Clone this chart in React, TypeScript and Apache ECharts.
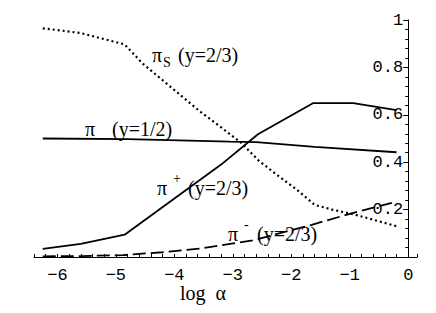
import React, { useEffect, useRef } from "react";
import * as echarts from "echarts";

// log alpha vs. value
const piS: [number, number][] = [
  [-6.25, 0.965], [-5.6, 0.945], [-4.85, 0.897], [-4.55, 0.818], [-4.25, 0.756],
  [-3.9, 0.684], [-3.55, 0.612], [-3.2, 0.547], [-2.85, 0.48], [-2.55, 0.405],
  [-2.2, 0.338], [-1.9, 0.283], [-1.6, 0.22], [-1.3, 0.2], [-0.9, 0.178], [-0.2, 0.13],
];
const piHalf: [number, number][] = [
  [-6.25, 0.5], [-4.8, 0.497], [-3.05, 0.487], [-2.6, 0.485], [-1.6, 0.465], [-0.2, 0.442],
];
const piPlus: [number, number][] = [
  [-6.25, 0.034], [-5.6, 0.055], [-4.85, 0.094], [-3.2, 0.39],
  [-2.57, 0.518], [-1.63, 0.649], [-0.94, 0.649], [-0.2, 0.62],
];
const piMinus: [number, number][] = [
  [-6.25, 0.003], [-5.6, 0.004], [-4.88, 0.008], [-4.2, 0.02], [-3.57, 0.035],
  [-2.66, 0.07], [-1.65, 0.136], [-1.0, 0.182], [-0.2, 0.234],
];

const xLabelValues = [-6, -5, -4, -3, -2, -1, 0];
const yLabelValues = [0.2, 0.4, 0.6, 0.8, 1];

const X_MIN = -6.4;
const X_MAX = 0.15;
const GRID_LEFT = 34;
const GRID_RIGHT = 19;
const WIDTH = 436;

const SERIF = "'Liberation Serif', 'DejaVu Serif', serif";
const MONO = "'Liberation Mono', 'DejaVu Sans Mono', monospace";

export default function App() {
  const ref = useRef<HTMLDivElement>(null);
  useEffect(() => {
    if (!ref.current) return;
    const chart = echarts.init(ref.current, undefined, { renderer: "svg" });
    const gridW = WIDTH - GRID_LEFT - GRID_RIGHT;
    const yAxisOffset = -((0 - X_MIN) / (X_MAX - X_MIN)) * gridW;
    const line = (data: [number, number][], type: any, width = 1.8) => ({
      type: "line",
      data,
      showSymbol: false,
      symbol: "none",
      lineStyle: { color: "#000", width, type },
      silent: true,
    });
    const txt = (text: string, x: number, y: number, size = 20) => ({
      type: "text",
      x,
      y,
      style: {
        text,
        fill: "#000",
        font: `${size}px ${SERIF}`,
        textVerticalAlign: "middle",
        verticalAlign: "middle",
      },
    });
    chart.setOption({
      animation: false,
      backgroundColor: "#fff",
      grid: { left: GRID_LEFT, right: GRID_RIGHT, top: 20, bottom: 56 },
      xAxis: {
        type: "value",
        min: X_MIN,
        max: X_MAX,
        interval: 0.2,
        axisLine: { onZero: true, lineStyle: { color: "#000", width: 1 } },
        axisTick: { show: true, inside: true, length: 3, lineStyle: { color: "#000" } },
        splitLine: { show: false },
        axisLabel: {
          margin: 10,
          color: "#000",
          fontFamily: MONO,
          fontSize: 17,
          showMinLabel: true,
          showMaxLabel: true,
          formatter: (v: number) => {
            const r = Math.round(v);
            if (Math.abs(v - r) > 1e-6 || !xLabelValues.includes(r)) return "";
            return r < 0 ? "\u2212" + Math.abs(r) : String(r);
          },
        },
      },
      yAxis: {
        type: "value",
        min: 0,
        max: 1,
        interval: 0.2,
        position: "left",
        offset: yAxisOffset,
        axisLine: { show: true, onZero: false, lineStyle: { color: "#000", width: 1 } },
        axisTick: { show: true, length: 5, lineStyle: { color: "#000" } },
        minorTick: { show: true, splitNumber: 5, length: 3, lineStyle: { color: "#000" } },
        splitLine: { show: false },
        axisLabel: {
          margin: 5,
          color: "#000",
          fontFamily: MONO,
          fontSize: 17,
          formatter: (v: number) => {
            const m = yLabelValues.find((t) => Math.abs(t - v) < 1e-6);
            return m === undefined ? "" : String(m);
          },
        },
      },
      series: [
        line(piS, [2, 3], 2.2),
        line(piHalf, "solid"),
        line(piPlus, "solid"),
        line(piMinus, [13, 5]),
      ],
      graphic: [
        txt("\u03c0", 152, 55),
        txt("S", 163, 62, 14),
        txt("(y=2/3)", 178, 55),
        txt("\u03c0", 85, 129),
        txt("(y=1/2)", 112, 129),
        txt("\u03c0", 157, 188),
        txt("+", 173, 178, 14),
        txt("(y=2/3)", 188, 188),
        txt("\u03c0", 228, 234),
        txt("-", 244, 224, 14),
        txt("(y=2/3)", 257, 234),
        txt("log  \u03b1", 180, 293),
      ],
    });
    return () => chart.dispose();
  }, []);
  return (
    <div
      ref={ref}
      style={{ position: "fixed", left: 0, top: 0, width: 436, height: 313, background: "#fff" }}
    />
  );
}
